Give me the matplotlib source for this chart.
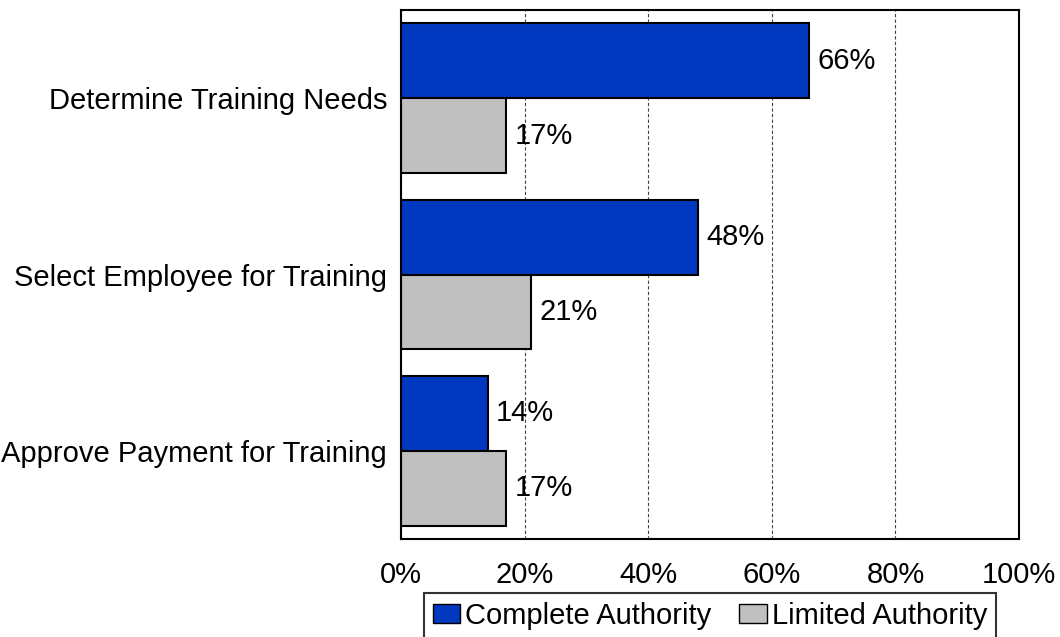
import numpy as np
import matplotlib.pyplot as plt
from matplotlib.patches import Patch

plt.rcParams['font.family'] = ['Liberation Sans', 'DejaVu Sans']

categories = ['Determine Training Needs', 'Select Employee for Training',
              'Approve Payment for Training']
complete = [66, 48, 14]
limited = [17, 21, 17]
xticks = [0, 20, 40, 60, 80, 100]

blue = '#0039BF'
grey = '#C0C0C0'
fs = 21

fig = plt.figure(figsize=(10.6, 6.37), dpi=100)
ax = fig.add_axes([401 / 1060, 1 - 539 / 637, 618 / 1060, 529 / 637])

y = np.arange(len(categories))
h = 0.425
ax.barh(y - h / 2, complete, height=h, color=blue, edgecolor='black', linewidth=1.5)
ax.barh(y + h / 2, limited, height=h, color=grey, edgecolor='black', linewidth=1.5)

for i in range(len(categories)):
    ax.text(complete[i] + 1.4, y[i] - h / 2, f'{complete[i]}%', va='center', ha='left', fontsize=fs)
    ax.text(limited[i] + 1.4, y[i] + h / 2, f'{limited[i]}%', va='center', ha='left', fontsize=fs)

ax.set_xlim(0, 100)
ax.set_ylim(len(categories) - 0.5, -0.5)
ax.set_yticks(y)
ax.set_yticklabels(categories, fontsize=fs)
ax.set_xticks(xticks)
ax.set_xticklabels([f'{t}%' for t in xticks], fontsize=fs)
ax.tick_params(length=0)
ax.tick_params(axis='x', pad=16)
ax.tick_params(axis='y', pad=10)
ax.set_axisbelow(True)
ax.xaxis.grid(True, linestyle=(0, (3, 2)), color='#444444', linewidth=0.8)
for s in ax.spines.values():
    s.set_linewidth(1.5)

handles = [Patch(facecolor=blue, edgecolor='black', label='Complete Authority'),
           Patch(facecolor=grey, edgecolor='black', label='Limited Authority')]
leg = fig.legend(handles=handles, loc='upper center', bbox_to_anchor=(710 / 1060, 1 - 593 / 637),
                 ncol=2, fontsize=fs, frameon=True, fancybox=False, edgecolor='black',
                 handlelength=0.95, handleheight=0.65, handletextpad=0.17, columnspacing=0.95,
                 borderpad=0.3, borderaxespad=0)
leg.get_frame().set_linewidth(1.5)

fig.savefig('out.png', dpi=100)
